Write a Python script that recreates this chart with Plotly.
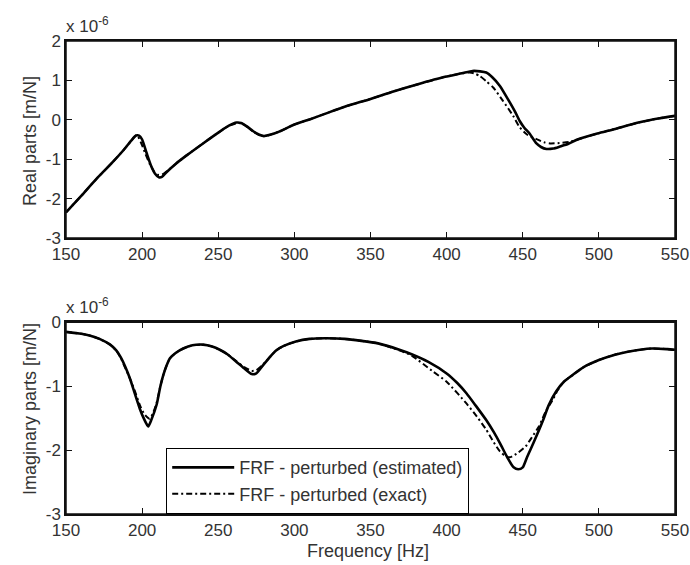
import plotly.graph_objects as go
from plotly.subplots import make_subplots

# ---------------- data (values in units of 1e-6 m/N) ----------------
real_est_f = [150, 160, 170, 180, 188, 193, 196, 198, 200, 203, 206, 208.5, 211, 213, 216, 222, 229,
              240, 251, 257, 262, 265, 268.5, 273, 277, 280, 284, 290, 300, 310, 320, 333, 350, 365,
              380, 399, 410, 417, 422, 426, 430, 435, 441.5, 445, 448, 451, 454.7, 459, 462, 465.6,
              470, 474.4, 480, 486, 499, 510, 526, 540, 550]
real_est_v = [-2.35, -1.93, -1.50, -1.10, -0.76, -0.52, -0.40, -0.40, -0.50, -0.85, -1.18, -1.37, -1.46,
              -1.45, -1.33, -1.12, -0.91, -0.60, -0.30, -0.15, -0.07, -0.08, -0.16, -0.29, -0.38, -0.41,
              -0.38, -0.30, -0.12, 0.01, 0.15, 0.33, 0.53, 0.72, 0.89, 1.09, 1.18, 1.24, 1.23, 1.20, 1.08,
              0.86, 0.44, 0.20, -0.03, -0.20, -0.36, -0.60, -0.69, -0.74, -0.73, -0.68, -0.61, -0.50,
              -0.35, -0.24, -0.07, 0.04, 0.10]

real_exa_f = [150, 160, 170, 180, 188, 193, 196, 197, 199.7, 202, 205, 208, 211, 214, 218, 222, 229,
              240, 251, 257, 263, 266, 269, 273, 277, 280, 284, 290, 300, 310, 320, 333, 350, 365,
              380, 399, 410, 415, 418, 421.8, 426, 430.6, 437, 443.7, 448, 453, 459, 464, 468, 474,
              481, 486, 499, 510, 526, 540, 550]
real_exa_v = [-2.35, -1.93, -1.50, -1.10, -0.76, -0.52, -0.40, -0.41, -0.62, -0.85, -1.12, -1.32, -1.40,
              -1.37, -1.25, -1.12, -0.91, -0.60, -0.30, -0.15, -0.08, -0.10, -0.18, -0.30, -0.39, -0.42,
              -0.38, -0.30, -0.12, 0.01, 0.15, 0.33, 0.53, 0.72, 0.89, 1.09, 1.18, 1.20, 1.18, 1.11,
              0.98, 0.82, 0.48, 0.10, -0.19, -0.38, -0.49, -0.57, -0.60, -0.59, -0.56, -0.50, -0.35,
              -0.24, -0.07, 0.04, 0.10]

imag_est_f = [150, 160, 166, 172, 179, 183, 186, 189, 192, 195, 198.6, 201, 204, 206, 209.5, 212, 214,
              216, 218.4, 222, 227, 233, 240, 246, 251, 256, 262, 267, 272, 275, 279.5, 284, 288, 293,
              301, 310, 320, 333, 355, 369, 377, 388, 400, 407, 413, 419, 426, 431, 435, 440, 444, 447,
              450, 453, 457, 463.4, 467, 472, 477, 483, 490, 500, 510, 519, 535, 545, 550]
imag_est_v = [-0.15, -0.18, -0.21, -0.26, -0.35, -0.44, -0.55, -0.70, -0.88, -1.10, -1.36, -1.50, -1.63,
              -1.53, -1.29, -1.00, -0.82, -0.68, -0.56, -0.48, -0.41, -0.36, -0.35, -0.38, -0.43, -0.50,
              -0.62, -0.72, -0.81, -0.80, -0.67, -0.54, -0.44, -0.37, -0.30, -0.26, -0.25, -0.26, -0.33,
              -0.43, -0.50, -0.62, -0.80, -0.95, -1.11, -1.30, -1.53, -1.72, -1.89, -2.12, -2.27, -2.30,
              -2.27, -2.10, -1.89, -1.53, -1.30, -1.08, -0.93, -0.82, -0.70, -0.59, -0.51, -0.46, -0.41,
              -0.42, -0.43]

imag_exa_f = [150, 160, 166, 172, 179, 183, 186, 189, 192, 195, 198.6, 201, 203, 205, 207, 209.5, 212,
              214, 216, 218.4, 222, 227, 233, 240, 246, 251, 256, 262, 267, 272, 275, 279.5, 284, 288,
              293, 301, 310, 320, 333, 355, 369, 377, 391, 400, 413, 420, 426, 431, 435, 439, 442, 447,
              452, 456, 460.6, 465, 470, 473, 477, 483, 490, 500, 510, 519, 535, 545, 550]
imag_exa_v = [-0.15, -0.18, -0.21, -0.26, -0.35, -0.44, -0.56, -0.72, -0.88, -1.06, -1.30, -1.42, -1.48,
              -1.51, -1.43, -1.26, -1.00, -0.82, -0.68, -0.56, -0.48, -0.41, -0.36, -0.35, -0.38, -0.43,
              -0.50, -0.61, -0.70, -0.76, -0.75, -0.66, -0.54, -0.44, -0.37, -0.30, -0.26, -0.25, -0.26,
              -0.33, -0.44, -0.52, -0.77, -0.93, -1.27, -1.48, -1.68, -1.88, -2.02, -2.10, -2.11, -2.04,
              -1.94, -1.80, -1.63, -1.40, -1.20, -1.06, -0.93, -0.82, -0.70, -0.59, -0.51, -0.46, -0.41,
              -0.42, -0.43]

x_ticks = [150, 200, 250, 300, 350, 400, 450, 500, 550]
y1_ticks = [2, 1, 0, -1, -2, -3]
y2_ticks = [0, -1, -2, -3]
name_est = "FRF - perturbed (estimated)"
name_exa = "FRF - perturbed (exact)"

# ---------------- figure ----------------
FONT = "Liberation Sans, Arial, sans-serif"
TXT = "#333333"
AX = "#111111"

fig = make_subplots(rows=2, cols=1, vertical_spacing=0.178)

solid = dict(color="black", width=2.6, shape="spline", smoothing=0.6)
dashd = dict(color="black", width=2, dash="6px,3px,2px,3px", shape="spline", smoothing=0.6)

fig.add_trace(go.Scatter(x=real_est_f, y=real_est_v, mode="lines", line=solid,
                         name=name_est, showlegend=False), row=1, col=1)
fig.add_trace(go.Scatter(x=real_exa_f, y=real_exa_v, mode="lines", line=dashd,
                         name=name_exa, showlegend=False), row=1, col=1)
fig.add_trace(go.Scatter(x=imag_est_f, y=imag_est_v, mode="lines", line=solid,
                         name=name_est), row=2, col=1)
fig.add_trace(go.Scatter(x=imag_exa_f, y=imag_exa_v, mode="lines", line=dashd,
                         name=name_exa), row=2, col=1)

H_PLOT = 565 - 41 - 51
top0 = (514 - 238) / H_PLOT
bot1 = (514 - 322.3) / H_PLOT

axis_common = dict(showgrid=False, zeroline=False, showline=True, linecolor=AX, linewidth=1.5,
                   mirror="ticks", ticks="inside", ticklen=6, tickcolor=AX, tickwidth=1.2,
                   automargin=False,
                   tickfont=dict(family=FONT, size=17, color=TXT))

fig.update_xaxes(range=[150, 550], tickvals=x_ticks, ticktext=[str(v) for v in x_ticks], **axis_common)
fig.update_yaxes(**axis_common)
fig.update_yaxes(range=[-3, 2], tickvals=y1_ticks, ticktext=[str(v) for v in y1_ticks],
                 domain=[top0, 1.0], row=1, col=1)
fig.update_yaxes(range=[-3, 0], tickvals=y2_ticks, ticktext=[str(v) for v in y2_ticks],
                 domain=[0.0, bot1], row=2, col=1)

# axes frames
for xr, yr in (("x", "y"), ("x2", "y2")):
    fig.add_shape(type="rect", xref=f"{xr} domain", yref=f"{yr} domain", x0=0, x1=1, y0=0, y1=1,
                  line=dict(color=AX, width=1.5), fillcolor="rgba(0,0,0,0)", layer="above")

ann = []
ann.append(dict(text="x 10<sup>-6</sup>", xref="paper", yref="paper", x=-0.003, xanchor="left",
                y=(514 - 25) / H_PLOT, yanchor="middle", showarrow=False,
                font=dict(family=FONT, size=17, color=TXT)))
ann.append(dict(text="x 10<sup>-6</sup>", xref="paper", yref="paper", x=-0.003, xanchor="left",
                y=(514 - 306) / H_PLOT, yanchor="middle", showarrow=False,
                font=dict(family=FONT, size=17, color=TXT)))
ann.append(dict(text="Real parts [m/N]", xref="paper", yref="paper", x=(30 - 66) / 609, xanchor="center",
                y=(514 - 141) / H_PLOT, yanchor="middle", textangle=-90, showarrow=False,
                font=dict(family=FONT, size=18, color=TXT)))
ann.append(dict(text="Imaginary parts [m/N]", xref="paper", yref="paper", x=(30 - 66) / 609,
                xanchor="center", y=(514 - 409) / H_PLOT, yanchor="middle", textangle=-90,
                showarrow=False, font=dict(family=FONT, size=18, color=TXT)))
ann.append(dict(text="Frequency [Hz]", xref="paper", yref="paper", x=(367.5 - 66) / 609,
                xanchor="center", y=(514 - 551) / H_PLOT, yanchor="middle", showarrow=False,
                font=dict(family=FONT, size=18, color=TXT)))

fig.update_layout(
    width=690, height=565,
    margin=dict(l=66, r=15, t=41, b=51, autoexpand=False),
    paper_bgcolor="white", plot_bgcolor="white",
    annotations=ann,
    showlegend=True,
    legend=dict(x=(166 - 66) / 609, xanchor="left", y=0.0, yanchor="bottom",
                bordercolor="black", borderwidth=1.2, bgcolor="white",
                itemwidth=62, tracegroupgap=0,
                font=dict(family=FONT, size=18, color=TXT)),
)

fig.write_html("out.html", config={"displayModeBar": False},
               post_script="document.body.style.margin='0';document.body.style.overflow='hidden';")
